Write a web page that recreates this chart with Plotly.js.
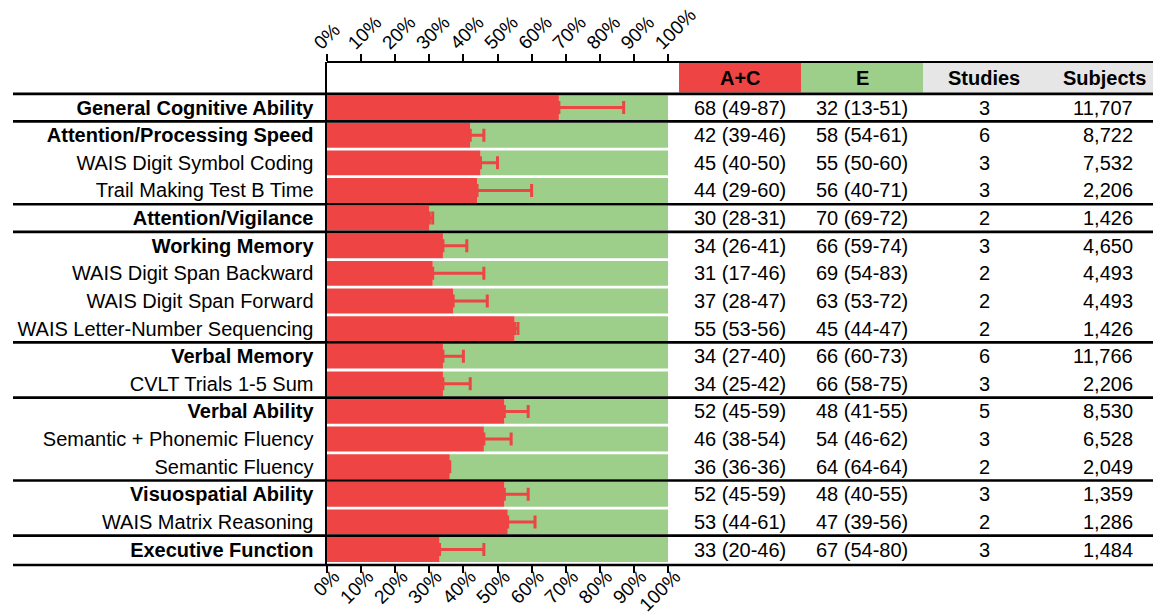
<!DOCTYPE html>
<html>
<head>
<meta charset="utf-8">
<script src="https://cdn.plot.ly/plotly-3.0.1.min.js"></script>
<style>
  html, body { margin: 0; padding: 0; background: #fff; }
  #chart { width: 1154px; height: 615px; }
</style>
</head>
<body>
<div id="chart"></div>
<script>
// ---- data ----
const labels = [
  "General Cognitive Ability", "Attention/Processing Speed", "WAIS Digit Symbol Coding",
  "Trail Making Test B Time", "Attention/Vigilance", "Working Memory",
  "WAIS Digit Span Backward", "WAIS Digit Span Forward", "WAIS Letter-Number Sequencing",
  "Verbal Memory", "CVLT Trials 1-5 Sum", "Verbal Ability", "Semantic + Phonemic Fluency",
  "Semantic Fluency", "Visuospatial Ability", "WAIS Matrix Reasoning", "Executive Function"
];
const isDomain = [1,1,0,0,1,1,0,0,0,1,0,1,0,0,1,0,1];
const ac   = [68,42,45,44,30,34,31,37,55,34,34,52,46,36,52,53,33];
const acLo = [49,39,40,29,28,26,17,28,53,27,25,45,38,36,45,44,20];
const acHi = [87,46,50,60,31,41,46,47,56,40,42,59,54,36,59,61,46];
const e    = [32,58,55,56,70,66,69,63,45,66,66,48,54,64,48,47,67];
const eLo  = [13,54,50,40,69,59,54,53,44,60,58,41,46,64,40,39,54];
const eHi  = [51,61,60,71,72,74,83,72,47,73,75,55,62,64,55,56,80];
const studies  = [3,6,3,3,2,3,2,2,2,6,3,5,3,2,3,2,3];
const subjects = [11707,8722,7532,2206,1426,4650,4493,4493,1426,11766,2206,8530,6528,2049,1359,1286,1484];
const tickVals = [0,10,20,30,40,50,60,70,80,90,100];
const headers = ["A+C", "E", "Studies", "Subjects"];

// ---- style ----
const RED = "#ee4444";
const GREEN = "#9dcf8a";
const GREY = "#e6e6e6";
const FONT = "Liberation Sans, Arial, Helvetica, sans-serif";

// pixel helpers (plot area spans x 327..668)
const L = 327, W = 341;
const px = p => (p - L) / W;

const traces = [
  {
    type: "bar", orientation: "h", y: labels, x: e, base: ac,
    marker: { color: GREEN, line: { width: 0 } }, width: 0.9,
    hoverinfo: "skip", showlegend: false
  },
  {
    type: "bar", orientation: "h", y: labels, x: ac,
    marker: { color: RED, line: { width: 0 } }, width: 0.9,
    error_x: {
      type: "data", symmetric: false,
      array: acHi.map((v, i) => v - ac[i]),
      arrayminus: ac.map(() => 0),
      color: RED, thickness: 3, width: 6.5
    },
    hoverinfo: "skip", showlegend: false
  },
  {
    type: "scatter", mode: "markers", y: labels, x: ac, xaxis: "x2",
    marker: { opacity: 0 }, hoverinfo: "skip", showlegend: false
  }
];

const tickAxis = {
  range: [0, 100], tickvals: tickVals, ticktext: tickVals.map(v => v + "%"),
  tickangle: -45, ticks: "outside", ticklen: 7, tickwidth: 2, tickcolor: "#000",
  showgrid: false, zeroline: false, showline: false, fixedrange: true,
  tickfont: { family: FONT, size: 19, color: "#000" }
};

const shapes = [];
const annotations = [];

// header cells
const cellY0 = -1.615, cellY1 = -0.55, headY = -1.08;
[[679, 801.5, RED], [801.5, 923, GREEN], [923, 1153, GREY]].forEach(c => {
  shapes.push({ type: "rect", xref: "paper", yref: "y", x0: px(c[0]), x1: px(c[1]),
    y0: cellY0, y1: cellY1, fillcolor: c[2], line: { width: 0 }, layer: "below" });
});
const colX = [740, 862, 984];
headers.forEach((h, k) => {
  annotations.push({
    xref: "paper", yref: "y", x: k < 3 ? px(colX[k]) : px(1148), y: headY,
    xanchor: k < 3 ? "center" : "right", yanchor: "middle", showarrow: false,
    text: "<b>" + h + "</b>", font: { family: FONT, size: 20, color: "#000" }
  });
});

// table rows
labels.forEach((lab, i) => {
  const cells = [
    ac[i] + " (" + acLo[i] + "-" + acHi[i] + ")",
    e[i] + " (" + eLo[i] + "-" + eHi[i] + ")",
    String(studies[i]),
    subjects[i].toLocaleString("en-US")
  ];
  cells.forEach((t, k) => {
    annotations.push({
      xref: "paper", yref: "y", x: k < 3 ? px(colX[k]) : px(1135), y: lab,
      xanchor: k < 3 ? "center" : "right", yanchor: "middle", showarrow: false,
      text: t, font: { family: FONT, size: 20, color: "#000" }
    });
  });
});

// separator lines
labels.forEach((lab, i) => {
  if (isDomain[i]) {
    shapes.push({ type: "line", xref: "paper", yref: "y", x0: px(13), x1: px(1153),
      y0: i - 0.5, y1: i - 0.5, line: { color: "#000", width: 2.7 } });
  }
});
shapes.push({ type: "line", xref: "paper", yref: "paper", x0: px(13), x1: px(1153),
  y0: 0, y1: 0, line: { color: "#000", width: 2.7 } });
shapes.push({ type: "line", xref: "paper", yref: "paper", x0: 0, x1: px(1153),
  y0: 1, y1: 1, line: { color: "#000", width: 2 } });

const layout = {
  width: 1154, height: 615,
  margin: { l: 327, r: 486, t: 62, b: 50, pad: 0 },
  paper_bgcolor: "#fff", plot_bgcolor: "#fff",
  barmode: "overlay", showlegend: false,
  font: { family: FONT, color: "#000" },
  xaxis: Object.assign({}, tickAxis, { side: "bottom", ticklabelshift: 7, ticklabelstandoff: -15 }),
  xaxis2: Object.assign({}, tickAxis, { side: "top", overlaying: "x", anchor: "y",
    ticklabelshift: -12, ticklabelstandoff: -7 }),
  yaxis: {
    type: "category", range: [16.56, -1.651], autorange: false,
    tickvals: labels,
    ticktext: labels.map((l, i) => isDomain[i] ? "<b>" + l + "</b>" : l),
    ticks: "", ticklabelstandoff: 7,
    showline: true, linecolor: "#000", linewidth: 2.5,
    showgrid: false, zeroline: false, fixedrange: true,
    tickfont: { family: FONT, size: 20, color: "#000" }
  },
  shapes: shapes,
  annotations: annotations
};

Plotly.newPlot("chart", traces, layout, { staticPlot: true, displayModeBar: false });
</script>
</body>
</html>
